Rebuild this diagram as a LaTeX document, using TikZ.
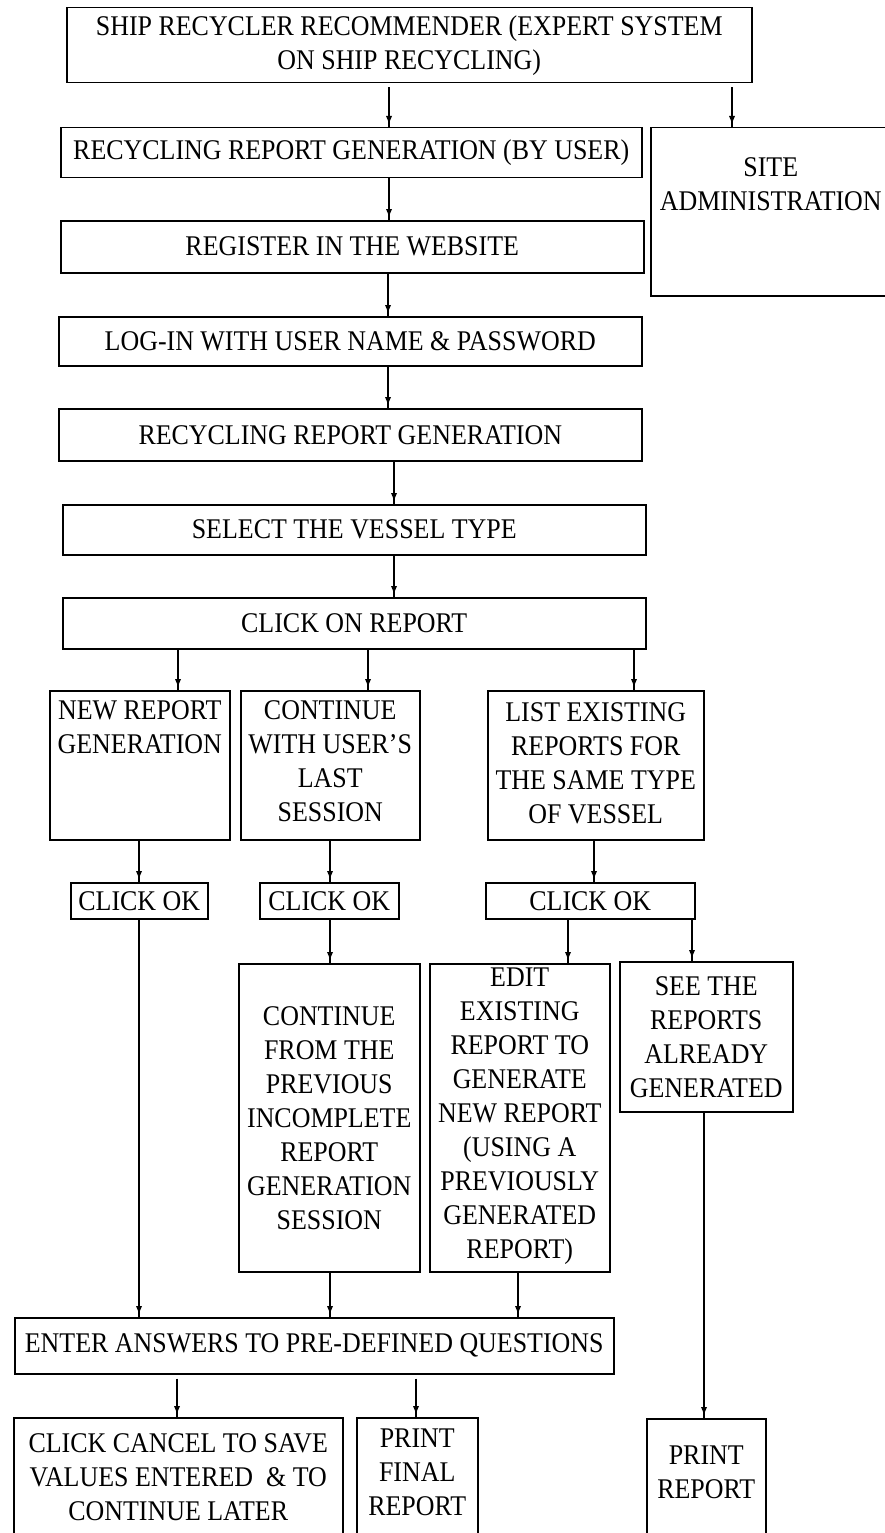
\documentclass[tikz,border=0pt]{standalone}
\usepackage{fontspec}
\setmainfont{Liberation Serif}[FakeStretch=0.91]
\usetikzlibrary{decorations.markings}
% text block of fixed size whose lines start a given distance below its top
\newcommand\topbox[4]{\parbox[c][#2][t]{#1}{\centering\vspace*{#3}#4}}
\begin{document}
\begin{tikzpicture}[x=1pt,y=-1pt,
  box/.style={draw, line width=1.5pt, inner sep=0pt, anchor=north west,
    align=center, font=\fontsize{28.5}{34}\selectfont},
  conn/.style={line width=1.5pt,
    decoration={markings,
      mark=at position -4pt with {\fill (-7pt,-3pt) -- (0pt,0pt) -- (-7pt,3pt) -- cycle;}},
    postaction={decorate}},
  gapped/.style={shorten <=4pt}]
\useasboundingbox (0,0) rectangle (885,1533);
\clip (0,0) rectangle (885,1533);

% main column
\node[box, minimum width=685pt, minimum height=75pt] (top) at (66,7)
  {SHIP RECYCLER RECOMMENDER (EXPERT SYSTEM\\ON SHIP RECYCLING)};
\node[box, minimum width=581pt, minimum height=50pt] (gen) at (60,127)
  {RECYCLING REPORT GENERATION (BY USER)};
\node[box] (site) at (650,127)
  {\topbox{240pt}{168pt}{30pt}{SITE\\ADMINISTRATION}};
\node[box, minimum width=583pt, minimum height=52pt] (reg) at (60,220)
  {REGISTER IN THE WEBSITE};
\node[box, minimum width=583pt, minimum height=49pt] (login) at (58,316)
  {LOG-IN WITH USER NAME \& PASSWORD};
\node[box, minimum width=583pt, minimum height=52pt] (rgen) at (58,408)
  {RECYCLING REPORT GENERATION};
\node[box, minimum width=583pt, minimum height=50pt] (vessel) at (62,504)
  {SELECT THE VESSEL TYPE};
\node[box, minimum width=583pt, minimum height=51pt] (clickrep) at (62,597)
  {CLICK ON REPORT};

% report options
\node[box] (newrep) at (49,690)
  {\topbox{180pt}{149pt}{10pt}{NEW REPORT\\GENERATION}};
\node[box] (contuser) at (240,690)
  {\topbox{179pt}{149pt}{10pt}{CONTINUE\\WITH USER'S\\LAST\\SESSION}};
\node[box] (listex) at (487,690)
  {\topbox{216pt}{149pt}{12pt}{LIST EXISTING\\REPORTS FOR\\THE SAME TYPE\\OF VESSEL}};

\node[box, minimum width=137pt, minimum height=36pt] (ok1) at (70,882) {CLICK OK};
\node[box, minimum width=139pt, minimum height=36pt] (ok2) at (259,882) {CLICK OK};
\node[box, minimum width=209pt, minimum height=36pt] (ok3) at (485,882) {CLICK OK};

\node[box, minimum width=181pt, minimum height=308pt] (contprev) at (238,963)
  {CONTINUE\\FROM THE\\PREVIOUS\\INCOMPLETE\\REPORT\\GENERATION\\SESSION};
\node[box] (edit) at (429,963)
  {\topbox{180pt}{308pt}{4pt}{EDIT\\EXISTING\\REPORT TO\\GENERATE\\NEW REPORT\\(USING A\\PREVIOUSLY\\GENERATED\\REPORT)}};
\node[box, minimum width=173pt, minimum height=150pt] (see) at (619,961)
  {SEE THE\\REPORTS\\ALREADY\\GENERATED};

\node[box, minimum width=599pt, minimum height=56pt] (enter) at (14,1317)
  {ENTER ANSWERS TO PRE-DEFINED QUESTIONS};

\node[box] (cancel) at (13,1417)
  {\topbox{329pt}{150pt}{16pt}{CLICK CANCEL TO SAVE\\VALUES ENTERED~ \& TO\\CONTINUE LATER}};
\node[box] (pfinal) at (356,1417)
  {\topbox{121pt}{150pt}{11pt}{PRINT\\FINAL\\REPORT}};
\node[box] (prep) at (646,1418)
  {\topbox{119pt}{150pt}{27pt}{PRINT\\REPORT}};

% x positions of the connectors
\path (389,0) coordinate (xa) (732,0) coordinate (xb) (388,0) coordinate (xc)
      (394,0) coordinate (xd) (178,0) coordinate (xe) (368,0) coordinate (xf)
      (634,0) coordinate (xg) (139,0) coordinate (xh) (330,0) coordinate (xi)
      (594,0) coordinate (xj) (568,0) coordinate (xk) (692,0) coordinate (xl)
      (518,0) coordinate (xm) (177,0) coordinate (xn) (416,0) coordinate (xo)
      (704,0) coordinate (xp);

\draw[conn, gapped] (top.south -| xa) -- (gen.north -| xa);
\draw[conn, gapped] (top.south -| xb) -- (site.north -| xb);
\draw[conn] (gen.south -| xa) -- (reg.north -| xa);
\draw[conn] (reg.south -| xc) -- (login.north -| xc);
\draw[conn] (login.south -| xc) -- (rgen.north -| xc);
\draw[conn] (rgen.south -| xd) -- (vessel.north -| xd);
\draw[conn] (vessel.south -| xd) -- (clickrep.north -| xd);
\draw[conn] (clickrep.south -| xe) -- (newrep.north -| xe);
\draw[conn] (clickrep.south -| xf) -- (contuser.north -| xf);
\draw[conn] (clickrep.south -| xg) -- (listex.north -| xg);
\draw[conn] (newrep.south -| xh) -- (ok1.north -| xh);
\draw[conn] (contuser.south -| xi) -- (ok2.north -| xi);
\draw[conn] (listex.south -| xj) -- (ok3.north -| xj);
\draw[conn] (ok1.south -| xh) -- (enter.north -| xh);
\draw[conn] (ok2.south -| xi) -- (contprev.north -| xi);
\draw[conn] (ok3.south -| xk) -- (edit.north -| xk);
\draw[conn] (ok3.south -| xl) -- (see.north -| xl);
\draw[conn] (contprev.south -| xi) -- (enter.north -| xi);
\draw[conn] (edit.south -| xm) -- (enter.north -| xm);
\draw[conn, gapped] (enter.south -| xn) -- (cancel.north -| xn);
\draw[conn, gapped] (enter.south -| xo) -- (pfinal.north -| xo);
\draw[conn] (see.south -| xp) -- (prep.north -| xp);
\end{tikzpicture}
\end{document}
